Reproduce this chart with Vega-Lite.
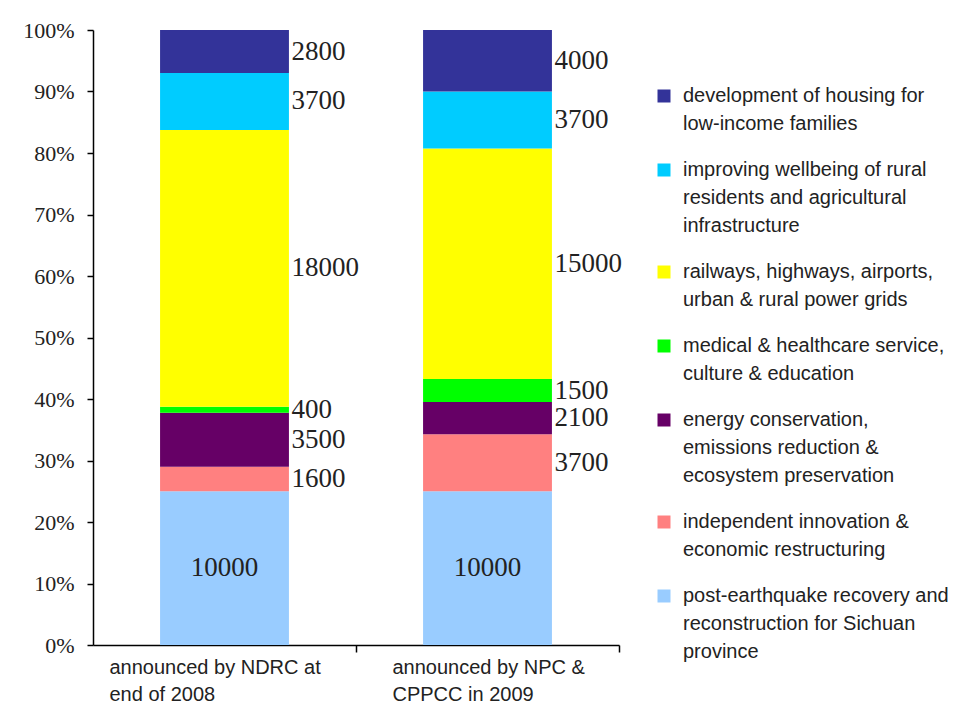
{
  "$schema": "https://vega.github.io/schema/vega-lite/v6.json",
  "width": 526,
  "height": 615,
  "autosize": "none",
  "padding": {"left": 93, "top": 30, "right": 337, "bottom": 59},
  "background": "white",
  "config": {"view": {"stroke": null}},
  "data": {
    "values": [
      {"source": "announced by NDRC at|end of 2008", "category": "post-earthquake recovery and|reconstruction for Sichuan|province", "rank": 1, "value": 10000},
      {"source": "announced by NDRC at|end of 2008", "category": "independent innovation &|economic restructuring", "rank": 2, "value": 1600},
      {"source": "announced by NDRC at|end of 2008", "category": "energy conservation,|emissions reduction &|ecosystem preservation", "rank": 3, "value": 3500},
      {"source": "announced by NDRC at|end of 2008", "category": "medical & healthcare service,|culture & education", "rank": 4, "value": 400},
      {"source": "announced by NDRC at|end of 2008", "category": "railways, highways, airports,|urban & rural power grids", "rank": 5, "value": 18000},
      {"source": "announced by NDRC at|end of 2008", "category": "improving wellbeing of rural|residents and agricultural|infrastructure", "rank": 6, "value": 3700},
      {"source": "announced by NDRC at|end of 2008", "category": "development of housing for|low-income families", "rank": 7, "value": 2800},
      {"source": "announced by NPC &|CPPCC in 2009", "category": "post-earthquake recovery and|reconstruction for Sichuan|province", "rank": 1, "value": 10000},
      {"source": "announced by NPC &|CPPCC in 2009", "category": "independent innovation &|economic restructuring", "rank": 2, "value": 3700},
      {"source": "announced by NPC &|CPPCC in 2009", "category": "energy conservation,|emissions reduction &|ecosystem preservation", "rank": 3, "value": 2100},
      {"source": "announced by NPC &|CPPCC in 2009", "category": "medical & healthcare service,|culture & education", "rank": 4, "value": 1500},
      {"source": "announced by NPC &|CPPCC in 2009", "category": "railways, highways, airports,|urban & rural power grids", "rank": 5, "value": 15000},
      {"source": "announced by NPC &|CPPCC in 2009", "category": "improving wellbeing of rural|residents and agricultural|infrastructure", "rank": 6, "value": 3700},
      {"source": "announced by NPC &|CPPCC in 2009", "category": "development of housing for|low-income families", "rank": 7, "value": 4000}
    ]
  },
  "transform": [
    {"stack": "value", "groupby": ["source"], "sort": [{"field": "rank", "order": "ascending"}], "offset": "normalize", "as": ["y0", "y1"]},
    {"calculate": "(datum.y0 + datum.y1) / 2", "as": "mid"}
  ],
  "encoding": {
    "x": {
      "field": "source",
      "type": "nominal",
      "sort": null,
      "scale": {"paddingInner": 0.51, "paddingOuter": 0.255},
      "axis": {
        "title": null,
        "labelAngle": 0,
        "labelAlign": "left",
        "labelBaseline": "top",
        "labelExpr": "split(datum.label, '|')",
        "labelFont": "Liberation Sans",
        "labelFontSize": 20,
        "labelLineHeight": 27,
        "labelColor": "#222",
        "labelPadding": 5,
        "labelLimit": 300,
        "tickBand": "center",
        "tickOffset": 131.5,
        "labelOffset": {"condition": {"test": "indexof(datum.value, 'NDRC') >= 0", "value": -247}, "value": -227},
        "tickSize": 7,
        "tickColor": "black",
        "tickWidth": 1.5,
        "domainColor": "black",
        "domainWidth": 1.5,
        "encode": {"ticks": {"update": {"y2": {"value": -7}}}}
      }
    }
  },
  "layer": [
    {
      "mark": {"type": "bar"},
      "encoding": {
        "y": {
          "field": "y0",
          "type": "quantitative",
          "scale": {"domain": [0, 1], "nice": false},
          "axis": {
            "title": null,
            "values": [0, 0.1, 0.2, 0.3, 0.4, 0.5, 0.6, 0.7, 0.8, 0.9, 1],
            "format": ".0%",
            "grid": false,
            "domainColor": "black",
            "domainWidth": 1.5,
            "tickColor": "black",
            "tickWidth": 1.5,
            "tickSize": 6,
            "labelFont": "Liberation Serif",
            "labelFontSize": 22,
            "labelColor": "#222",
            "labelPadding": 13,
            "encode": {"ticks": {"update": {"x2": {"value": 6}}}}
          }
        },
        "y2": {"field": "y1"},
        "color": {
          "field": "category",
          "type": "nominal",
          "scale": {
            "domain": [
              "development of housing for|low-income families",
              "improving wellbeing of rural|residents and agricultural|infrastructure",
              "railways, highways, airports,|urban & rural power grids",
              "medical & healthcare service,|culture & education",
              "energy conservation,|emissions reduction &|ecosystem preservation",
              "independent innovation &|economic restructuring",
              "post-earthquake recovery and|reconstruction for Sichuan|province"
            ],
            "range": ["#333399", "#00CCFF", "#FFFF00", "#00FF00", "#660066", "#FF8080", "#99CCFF"]
          },
          "legend": {
            "orient": "none",
            "legendX": 561,
            "legendY": 56,
            "title": null,
            "labelExpr": "split(datum.label, '|')",
            "labelFont": "Liberation Sans",
            "labelFontSize": 20,
            "labelColor": "#222",
            "labelLimit": 400,
            "labelOffset": 9,
            "symbolType": "square",
            "symbolSize": 169,
            "symbolStrokeWidth": 0,
            "symbolOpacity": 1,
            "rowPadding": 26,
            "encode": {"labels": {"update": {"lineHeight": {"value": 28}}}}
          }
        }
      }
    },
    {
      "transform": [{"filter": "indexof(datum.category, 'post-earthquake') < 0"}],
      "mark": {"type": "text", "align": "left", "baseline": "middle", "dx": 67, "font": "Liberation Serif", "fontSize": 27, "color": "#222"},
      "encoding": {
        "y": {"field": "mid", "type": "quantitative"},
        "text": {"field": "value", "type": "quantitative", "format": "d"}
      }
    },
    {
      "transform": [{"filter": "indexof(datum.category, 'post-earthquake') >= 0"}],
      "mark": {"type": "text", "align": "center", "baseline": "middle", "font": "Liberation Serif", "fontSize": 27, "color": "#222"},
      "encoding": {
        "y": {"field": "mid", "type": "quantitative"},
        "text": {"field": "value", "type": "quantitative", "format": "d"}
      }
    }
  ]
}
